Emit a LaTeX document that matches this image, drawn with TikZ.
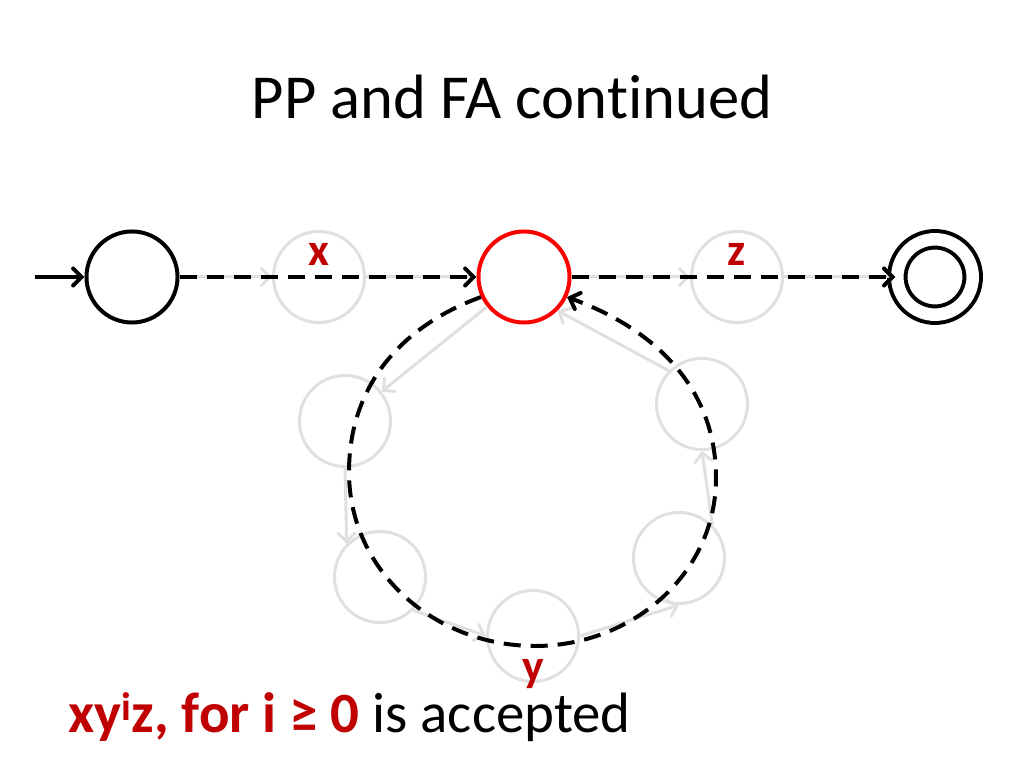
\documentclass[tikz,border=0pt]{standalone}
\usepackage{fontspec}
\setmainfont{Carlito}[Ligatures=NoCommon]
\usetikzlibrary{arrows.meta,positioning,calc}
\definecolor{darkred}{RGB}{192,0,0}
\definecolor{ghostgray}{RGB}{224,224,224}

\begin{document}
\begin{tikzpicture}[x=0.703pt,y=0.703pt,
    state/.style={circle, draw=black, line width=2.8pt, minimum size=64pt, inner sep=0pt},
    ghost/.style={circle, draw=ghostgray, line width=2.1pt, minimum size=64pt, inner sep=0pt},
    ghostedge/.style={draw=ghostgray, line width=2.1pt, -{Straight Barb[length=6pt,width=12pt,line cap=round]}},
    dashedge/.style={draw=black, line width=2.8pt, dash pattern=on 12pt off 7pt, -{Straight Barb[length=6pt,width=12pt,line cap=round]}},
    lbl/.style={text=darkred, font=\fontsize{32}{36}\selectfont\bfseries, inner sep=0pt}]
    \useasboundingbox (0,0) rectangle (1024,768);

    % Title
    \node (title) at (512,671) {\fontsize{44}{53}\selectfont PP and FA continued};

    % Faded states of the path
    \node[ghost] (sx) at (319,491) {};
    \node[ghost] (sz) at (737,491) {};
    \node[ghost] (l1) at (345,347) {};
    \node[ghost] (l2) at (380,191) {};
    \node[ghost] (lb) at (533,132) {};
    \node[ghost] (l4) at (679,210) {};
    \node[ghost] (l5) at (702,364) {};

    % Main states
    \node[state] (start) at (132,491) {};
    \node[state, draw=red] (mid) at (524,491) {};
    \node[state, minimum size=53pt, double, double distance=8.8pt] (accept) at (935,491) {};
    \coordinate (entry) at (35,491);

    % Faded transitions
    \draw[ghostedge] (start) -- (sx);
    \draw[ghostedge] (sx) -- (mid);
    \draw[ghostedge] (mid) -- (l1);
    \draw[ghostedge] (l1.south) -- (l2.north west);
    \draw[ghostedge] (l2.south east) -- (lb.west);
    \draw[ghostedge] (lb.east) -- (l4.south);
    \draw[ghostedge] (l4.north east) -- (l5.south);
    \draw[ghostedge] (l5.north west) -- (mid.south east);
    \draw[ghostedge] (mid) -- (sz);
    \draw[ghostedge] (sz) -- (accept);

    % Start arrow and dashed paths
    \draw[line width=2.8pt, -{Straight Barb[length=6pt,width=12pt,line cap=round]}] (entry) -- (start);
    \draw[dashedge] (start) -- (mid);
    \draw[dashedge] (mid) -- (accept);

    % Loop y
    \coordinate (yw) at (349,296);
    \coordinate (ys) at (535,122);
    \coordinate (ye) at (716,290);
    \draw[dashedge] (mid.205) to[out=200,in=90] (yw) to[out=-90,in=180] (ys)
        to[out=0,in=-90] (ye) to[out=90,in=-20] (mid.-25);

    % Labels
    \node[lbl] (labx) at (319,514) {x};
    \node[lbl] (labz) at (737,514) {z};
    \node[lbl] (laby) at (533,94) {y};

    % Bottom line
    \node[anchor=base west, inner sep=0pt] (claim) at (68,35)
        {\fontsize{40}{48}\selectfont\textcolor{darkred}{\bfseries xy\textsuperscript{i}z, for i ≥ 0} is accepted};
\end{tikzpicture}
\end{document}
